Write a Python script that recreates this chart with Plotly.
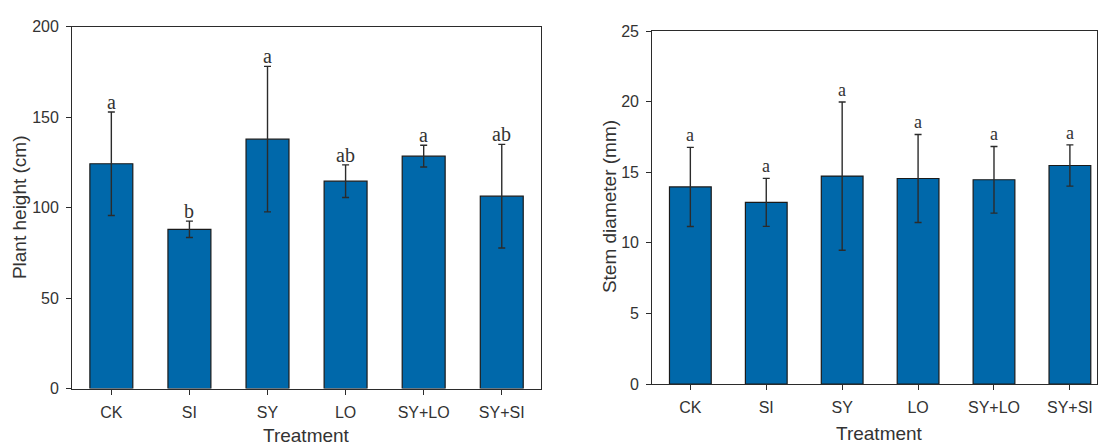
import plotly.graph_objects as go

# Treatments and measured means / standard deviations
treatments = ["CK", "SI", "SY", "LO", "SY+LO", "SY+SI"]

height_mean = [124.2, 88.0, 137.8, 114.6, 128.4, 106.3]
height_sd = [28.6, 4.5, 40.2, 9.0, 6.0, 28.6]
height_letters = ["a", "b", "a", "ab", "a", "ab"]

diameter_mean = [13.96, 12.87, 14.73, 14.56, 14.47, 15.48]
diameter_sd = [2.80, 1.70, 5.25, 3.12, 2.36, 1.46]
diameter_letters = ["a", "a", "a", "a", "a", "a"]

BAR_COLOR = "#0068AA"
EDGE_COLOR = "#1a1a1a"
AXIS_COLOR = "#2b2b2b"
TEXT_COLOR = "#333333"
SANS = "Liberation Sans, Arial, sans-serif"
SERIF = "Liberation Serif, Times New Roman, serif"
W, H = 1098, 445

fig = go.Figure()

fig.add_trace(go.Bar(
    x=treatments, y=height_mean, width=0.55,
    marker=dict(color=BAR_COLOR, line=dict(color=EDGE_COLOR, width=1.2)),
    error_y=dict(type="data", array=height_sd, visible=True,
                 color=AXIS_COLOR, thickness=1.4, width=3.5),
    xaxis="x", yaxis="y", showlegend=False,
))

fig.add_trace(go.Bar(
    x=treatments, y=diameter_mean, width=0.55,
    marker=dict(color=BAR_COLOR, line=dict(color=EDGE_COLOR, width=1.2)),
    error_y=dict(type="data", array=diameter_sd, visible=True,
                 color=AXIS_COLOR, thickness=1.4, width=3.5),
    xaxis="x2", yaxis="y2", showlegend=False,
))

annotations = []
for cat, m, s, lab in zip(treatments, height_mean, height_sd, height_letters):
    annotations.append(dict(
        x=cat, y=m + s, xref="x", yref="y", text=lab, showarrow=False,
        yanchor="bottom", yshift=-3,
        font=dict(family=SERIF, size=20, color=TEXT_COLOR),
    ))
for cat, m, s, lab in zip(treatments, diameter_mean, diameter_sd, diameter_letters):
    annotations.append(dict(
        x=cat, y=m + s, xref="x2", yref="y2", text=lab, showarrow=False,
        yanchor="bottom", yshift=0,
        font=dict(family=SERIF, size=18, color=TEXT_COLOR),
    ))


def paper_label(text, px, py, angle=0):
    return dict(text=text, x=px / W, y=1 - py / H, xref="paper", yref="paper",
                xanchor="center", yanchor="middle", textangle=angle,
                showarrow=False,
                font=dict(family=SANS, size=19, color=TEXT_COLOR))


# Axis titles
annotations += [
    paper_label("Treatment", 306, 444),
    paper_label("Treatment", 879, 442),
    paper_label("Plant height (cm)", 19, 207, -90),
    paper_label("Stem diameter (mm)", 609, 207, -90),
]

common_axis = dict(
    showline=True, linecolor=AXIS_COLOR, linewidth=1.4, mirror=True,
    showgrid=False, zeroline=False,
    ticks="outside", ticklen=5, tickwidth=1.3, tickcolor=AXIS_COLOR,
    ticklabelstandoff=4,
    tickfont=dict(family=SANS, size=16, color=TEXT_COLOR),
)

fig.update_layout(
    width=W, height=H,
    margin=dict(l=0, r=0, t=0, b=0),
    paper_bgcolor="white", plot_bgcolor="white",
    annotations=annotations,
    xaxis=dict(domain=[72.3 / W, 540.8 / W], anchor="y",
               range=[-0.5, 5.5], **common_axis),
    yaxis=dict(domain=[1 - 395.7 / H, 1 - 19.3 / H], anchor="x",
               range=[0, 200], tickvals=[0, 50, 100, 150, 200], **common_axis),
    xaxis2=dict(domain=[652.4 / W, 1097 / W], anchor="y2",
                range=[-0.5, 5.357], **common_axis),
    yaxis2=dict(domain=[1 - 391 / H, 1 - 24 / H], anchor="x2",
                range=[0, 25], tickvals=[0, 5, 10, 15, 20, 25], **common_axis),
)

fig.write_html("out.html")
